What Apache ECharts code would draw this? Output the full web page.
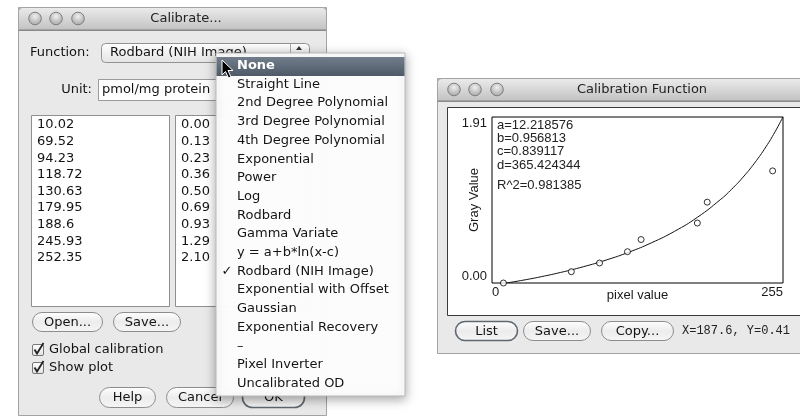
<!DOCTYPE html>
<html><head><meta charset="utf-8">
<script src="https://cdn.jsdelivr.net/npm/echarts@6/dist/echarts.min.js"></script>
<style>html,body{margin:0;padding:0;background:#fff}#c{width:800px;height:418px}</style>
</head><body><div id="c"></div>
<script>
// ---- data ----
const measured = [10.02, 69.52, 94.23, 118.72, 130.63, 179.95, 188.6, 245.93, 252.35];
const known = [0.00, 0.13, 0.23, 0.36, 0.50, 0.69, 0.93, 1.29, 2.10];
const curveX = [12.2, 15, 20, 30, 40, 60, 80, 100, 120, 140, 160, 180, 200, 210, 220, 230, 240, 248, 255];
const curveY = [0, 0.005, 0.016, 0.039, 0.064, 0.121, 0.187, 0.264, 0.355, 0.464, 0.595, 0.756, 0.958, 1.079, 1.218, 1.379, 1.566, 1.739, 1.912];
const xTickLabels = ['0', '255'];
const yTickLabels = ['0.00', '1.91'];
const fitParams = ['a=12.218576', 'b=0.956813', 'c=0.839117', 'd=365.424344'];
const rSquared = 'R^2=0.981385';
const menuItems = ['None', 'Straight Line', '2nd Degree Polynomial', '3rd Degree Polynomial', '4th Degree Polynomial',
  'Exponential', 'Power', 'Log', 'Rodbard', 'Gamma Variate', 'y = a+b*ln(x-c)', 'Rodbard (NIH Image)',
  'Exponential with Offset', 'Gaussian', 'Exponential Recovery', '–', 'Pixel Inverter', 'Uncalibrated OD'];
const checkedItem = 'Rodbard (NIH Image)';
const statusText = 'X=187.6, Y=0.41';

// ---- helpers ----
const UI = '"DejaVu Sans", "Noto Sans", sans-serif';
const PLOT = '"Liberation Sans", Arial, sans-serif';
const els = [];
function txt(x, y, s, o) {
  o = o || {};
  els.push({type: 'text', x: x, y: y, z: o.z || 3, silent: true,
    style: {text: s, font: (o.weight || 'normal') + ' ' + (o.size || 13) + 'px ' + (o.family || UI),
      fill: o.color || '#141414', align: o.align || 'left', verticalAlign: o.va || 'middle'}});
}
function rect(x, y, w, h, o) {
  els.push({type: 'rect', z: o.z || 1, silent: true, shape: {x: x, y: y, width: w, height: h, r: o.r || 0},
    style: {fill: o.fill || 'none', stroke: o.stroke || null, lineWidth: o.lw || 1,
      shadowBlur: o.sb || 0, shadowColor: o.sc || 'transparent', shadowOffsetY: o.soy || 0}});
}
function grad(c1, c2, c3) {
  const stops = c3 ? [{offset: 0, color: c1}, {offset: 0.5, color: c2}, {offset: 1, color: c3}]
                   : [{offset: 0, color: c1}, {offset: 1, color: c2}];
  return new echarts.graphic.LinearGradient(0, 0, 0, 1, stops);
}
function line(x1, y1, x2, y2, color, z) {
  els.push({type: 'line', z: z || 2, silent: true, shape: {x1: x1, y1: y1, x2: x2, y2: y2}, style: {stroke: color, lineWidth: 1}});
}
function button(x, y, w, h, label, o) {
  o = o || {};
  rect(x + 0.5, y + 0.5, w, h, {r: h / 2, fill: grad('#ffffff', '#ececec', '#f6f6f6'), stroke: o.def ? '#5f6770' : '#8d8d8d', lw: o.def ? 1.6 : 1, z: 2});
  txt(x + w / 2 + 0.5, y + h / 2 + 1, label, {align: 'center', z: 3});
}
function windowFrame(x, y, w, h, title, titleX) {
  rect(x + 0.5, y + 0.5, w, h, {fill: '#e9e9e9', stroke: '#a3a3a3', z: 1});
  rect(x + 0.5, y + 0.5, w, 22, {fill: grad('#ececec', '#c2c2c2'), stroke: '#a3a3a3', r: [4, 4, 0, 0], z: 1});
  line(x, y + 23.5, x + w, y + 23.5, '#8a8a8a', 2);
  [17, 38, 60].forEach(function (dx) {
    els.push({type: 'circle', z: 2, silent: true, shape: {cx: x + dx, cy: y + 11.5, r: 6.3},
      style: {fill: new echarts.graphic.RadialGradient(0.5, 0.35, 0.7, [{offset: 0, color: '#f0f0f0'}, {offset: 1, color: '#9e9e9e'}]), stroke: '#7f7f7f', lineWidth: 1}});
  });
  txt(titleX, y + 11.5, title, {align: 'center', z: 3, color: '#222'});
}
function checkbox(x, y, label) {
  rect(x + 0.5, y + 0.5, 11, 11, {fill: grad('#ffffff', '#e2e2e2'), stroke: '#777', z: 2, r: 1.5});
  els.push({type: 'polyline', z: 3, silent: true, shape: {points: [[x + 2.5, y + 5.5], [x + 5, y + 9.5], [x + 11.5, y - 1]]},
    style: {stroke: '#222', lineWidth: 1.8, fill: null}});
  txt(x + 17, y + 6, label, {z: 3});
}

// ---- left dialog "Calibrate..." ----
windowFrame(18, 7, 308, 408, 'Calibrate...', 186);
txt(30, 53, 'Function:');
rect(101.5, 43.5, 208, 19, {r: 4, fill: grad('#ffffff', '#f0f0f0', '#e4e4e4'), stroke: '#929292', z: 2});
line(290.5, 44, 290.5, 62, '#a8a8a8', 2);
els.push({type: 'polygon', z: 3, silent: true, shape: {points: [[296, 50], [302, 50], [299, 46]]}, style: {fill: '#333'}});
els.push({type: 'polygon', z: 3, silent: true, shape: {points: [[296, 56], [302, 56], [299, 60]]}, style: {fill: '#333'}});
txt(110, 53, checkedItem);
txt(92, 90, 'Unit:', {align: 'right'});
rect(98.5, 79.5, 211, 21, {fill: '#ffffff', stroke: '#9a9a9a', z: 2});
txt(102, 90, 'pmol/mg protein');
rect(31.5, 115.5, 138, 191, {fill: '#ffffff', stroke: '#8f8f8f', z: 2});
rect(175.5, 115.5, 135, 191, {fill: '#ffffff', stroke: '#8f8f8f', z: 2});
measured.forEach(function (v, i) { txt(37, 125 + i * 16.6, String(v)); });
known.forEach(function (v, i) { txt(181, 125 + i * 16.6, v.toFixed(2)); });
button(32, 312, 70, 19, 'Open...');
button(113, 312, 67, 19, 'Save...');
checkbox(32, 344, 'Global calibration');
checkbox(32, 362, 'Show plot');
button(99, 387, 56, 20, 'Help');
button(166, 387, 67, 20, 'Cancel');
button(242, 387, 62, 20, 'OK', {def: true});

// ---- popup menu ----
rect(216, 53, 189, 343, {fill: 'rgba(255,255,255,0.97)', stroke: '#b8b8b8', z: 5, sb: 10, sc: 'rgba(0,0,0,0.35)', soy: 3});
rect(216.5, 57, 188, 19, {fill: grad('#717d8a', '#4e5a68'), z: 5});
menuItems.forEach(function (s, i) {
  const y = 65.7 + i * 18.7;
  txt(237, y, s, {z: 6, color: i === 0 ? '#ffffff' : '#141414', weight: i === 0 ? 'bold' : 'normal'});
  if (s === checkedItem) txt(227, y, '✓', {z: 6, align: 'center', weight: 'bold'});
});
// mouse pointer
els.push({type: 'polygon', z: 7, silent: true,
  shape: {points: [[222, 60], [222, 75], [225.5, 71.5], [228.5, 78], [231, 77], [228, 70.5], [233, 70.5]]},
  style: {fill: '#000', stroke: '#fff', lineWidth: 1}});

// ---- right window "Calibration Function" ----
windowFrame(437, 78, 372, 275, 'Calibration Function', 642);
rect(447.5, 107.5, 360, 208, {fill: '#ffffff', stroke: '#3a3a3a', z: 2});
fitParams.forEach(function (s, i) { txt(497, 125 + i * 13.4, s, {family: PLOT, z: 12, color: '#222'}); });
txt(497, 185, rSquared, {family: PLOT, z: 12, color: '#222'});
button(455, 321, 62, 19, 'List', {def: true});
button(523, 321, 67, 19, 'Save...');
button(601, 321, 72, 19, 'Copy...');
txt(682, 331, statusText, {family: '"Liberation Mono", monospace', size: 12, z: 3, color: '#222'});

// ---- chart ----
const chart = echarts.init(document.getElementById('c'), null, {renderer: 'canvas'});
const axisFont = {fontFamily: PLOT, fontSize: 13, color: '#1a1a1a'};
chart.setOption({
  animation: false,
  backgroundColor: '#ffffff',
  grid: {left: 492, top: 117, width: 291, height: 166, show: true, borderColor: '#000', borderWidth: 1,
    backgroundColor: 'transparent', z: 10},
  xAxis: {type: 'value', min: 0, max: 255, interval: 255, z: 10,
    axisLine: {show: false}, axisTick: {show: false}, splitLine: {show: false},
    axisLabel: Object.assign({formatter: function (v, i) { return xTickLabels[i]; }, margin: 3,
      alignMinLabel: 'left', alignMaxLabel: 'right'}, axisFont),
    name: 'pixel value', nameLocation: 'middle', nameGap: 6, nameMoveOverlap: false,
    nameTextStyle: Object.assign({verticalAlign: 'top'}, axisFont)},
  yAxis: {type: 'value', min: 0, max: 1.91, interval: 1.91, z: 10,
    axisLine: {show: false}, axisTick: {show: false}, splitLine: {show: false},
    axisLabel: Object.assign({formatter: function (v, i) { return yTickLabels[i]; }, margin: 5,
      verticalAlignMinLabel: 'bottom', verticalAlignMaxLabel: 'top'}, axisFont),
    name: 'Gray Value', nameLocation: 'middle', nameRotate: 90, nameGap: 11, nameMoveOverlap: false,
    nameTextStyle: axisFont},
  graphic: {elements: els},
  series: [
    {type: 'line', z: 11, silent: true, showSymbol: false, smooth: true, clip: true,
      data: curveX.map(function (x, i) { return [x, curveY[i]]; }),
      lineStyle: {color: '#111', width: 1}},
    {type: 'scatter', z: 12, silent: true, clip: true, symbol: 'circle', symbolSize: 6,
      data: measured.map(function (x, i) { return [x, known[i]]; }),
      itemStyle: {color: '#ffffff', borderColor: '#000', borderWidth: 1}}
  ]
});
</script></body></html>
